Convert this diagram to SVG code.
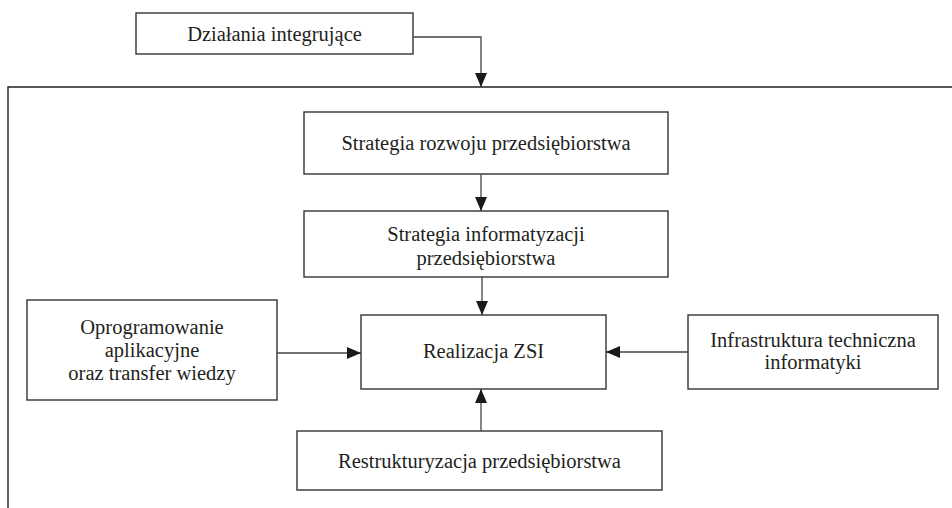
<svg xmlns="http://www.w3.org/2000/svg" width="952" height="508" viewBox="0 0 952 508">
<style>
.box{fill:#fff;stroke:#333;stroke-width:1.4}
.t{font-family:"Liberation Serif","Times New Roman",serif;font-size:20.5px;fill:#231f20;text-anchor:middle}
.c{fill:none;stroke:#444;stroke-width:1.3}
</style>
<defs>
<marker id="ah" markerUnits="userSpaceOnUse" markerWidth="14" markerHeight="12" refX="14" refY="6" orient="auto">
<path d="M0,0 L14,6 L0,12 Z" fill="#1a1a1a"/>
</marker>
</defs>
<rect width="952" height="508" fill="#fff"/>
<path d="M8,508 V87 H952" fill="none" stroke="#222" stroke-width="1.4"/>
<g id="n-dzialania">
<rect class="box" x="136" y="13" width="277" height="41"/>
<text class="t" x="274.5" y="40.5">Działania integrujące</text>
</g>
<g id="n-strategia-rozwoju">
<rect class="box" x="304" y="112" width="364" height="62"/>
<text class="t" x="486" y="150">Strategia rozwoju przedsiębiorstwa</text>
</g>
<g id="n-strategia-informatyzacji">
<rect class="box" x="304" y="211" width="364" height="66"/>
<text class="t" x="486" y="241">Strategia informatyzacji</text>
<text class="t" x="486" y="265">przedsiębiorstwa</text>
</g>
<g id="n-realizacja">
<rect class="box" x="361" y="315" width="245" height="74"/>
<text class="t" x="483.5" y="358">Realizacja ZSI</text>
</g>
<g id="n-oprogramowanie">
<rect class="box" x="27" y="300" width="250" height="100"/>
<text class="t" x="152" y="334">Oprogramowanie</text>
<text class="t" x="152" y="357">aplikacyjne</text>
<text class="t" x="152" y="380">oraz transfer wiedzy</text>
</g>
<g id="n-infrastruktura">
<rect class="box" x="688" y="315" width="250" height="74"/>
<text class="t" x="813" y="347">Infrastruktura techniczna</text>
<text class="t" x="813" y="369">informatyki</text>
</g>
<g id="n-restrukturyzacja">
<rect class="box" x="297" y="431" width="365" height="59"/>
<text class="t" x="479.5" y="468">Restrukturyzacja przedsiębiorstwa</text>
</g>
<g id="connectors">
<polyline class="c" points="413,37 481,37 481,87" marker-end="url(#ah)"/>
<line class="c" x1="481" y1="174" x2="481" y2="211" marker-end="url(#ah)"/>
<line class="c" x1="482" y1="277" x2="482" y2="315" marker-end="url(#ah)"/>
<line class="c" x1="277" y1="353" x2="361" y2="353" marker-end="url(#ah)"/>
<line class="c" x1="688" y1="352" x2="606" y2="352" marker-end="url(#ah)"/>
<line class="c" x1="481" y1="431" x2="481" y2="389" marker-end="url(#ah)"/>
</g>
</svg>
